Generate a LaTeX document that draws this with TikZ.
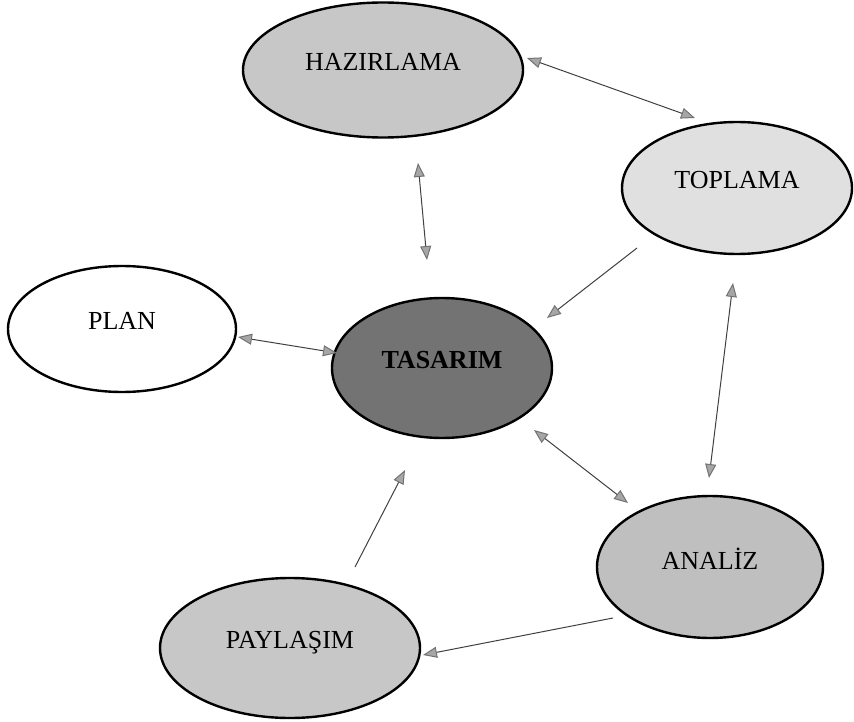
\documentclass[tikz,border=0pt]{standalone}
\usepackage{fontspec}
\setmainfont{Liberation Serif}
\usetikzlibrary{arrows.meta,shapes.geometric}
\begin{document}
\begin{tikzpicture}[x=1pt,y=-1pt,
  stage/.style={ellipse, draw=black, line width=2.4pt, inner sep=0pt,
    text depth=16pt, font=\fontsize{26}{30}\selectfont},
  link/.style={draw=black!75, line width=1pt,
    arrows={-Triangle[length=14pt,width=11pt,fill=black!35,color=black!55]}},
  bilink/.style={draw=black!75, line width=1pt,
    arrows={Triangle[length=14pt,width=11pt,fill=black!35,color=black!55]-Triangle[length=14pt,width=11pt,fill=black!35,color=black!55]}}
]
\useasboundingbox (0,0) rectangle (854,722);

% stages of the cycle
\node[stage, fill=black!22, minimum width=280pt, minimum height=135pt] (haz) at (383,70) {HAZIRLAMA};
\node[stage, fill=black!12, minimum width=230pt, minimum height=132pt] (top) at (737,188) {TOPLAMA};
\node[stage, fill=white,    minimum width=228pt, minimum height=126pt] (plan) at (122,329) {PLAN};
\node[stage, fill=black!55, minimum width=220pt, minimum height=140pt, font=\fontsize{26}{30}\selectfont\bfseries] (tas) at (442,368) {TASARIM};
\node[stage, fill=black!25, minimum width=226pt, minimum height=142pt] (ana) at (710,567) {ANAL\.IZ};
\node[stage, fill=black!22, minimum width=260pt, minimum height=140pt] (pay) at (290,648) {PAYLAŞIM};

% connectors
\draw[bilink] ([shift={(144,-12)}]haz.center) -- ([shift={(-42,-70)}]top.center);
\draw[bilink] ([shift={(35,93)}]haz.center) -- ([shift={(-15,-108)}]tas.center);
\draw[link]   ([shift={(-100,60)}]top.center) -- ([shift={(105,-50)}]tas.center);
\draw[bilink] ([shift={(116,8)}]plan.center) -- ([shift={(-105,-15)}]tas.center);
\draw[bilink] ([shift={(92,62)}]tas.center) -- ([shift={(-82,-64)}]ana.center);
\draw[bilink] ([shift={(-1,-89)}]ana.center) -- ([shift={(-4,95)}]top.center);
\draw[link]   ([shift={(65,-81)}]pay.center) -- ([shift={(-37,102)}]tas.center);
\draw[link]   ([shift={(-97,51)}]ana.center) -- ([shift={(133,7)}]pay.center);
\end{tikzpicture}
\end{document}
